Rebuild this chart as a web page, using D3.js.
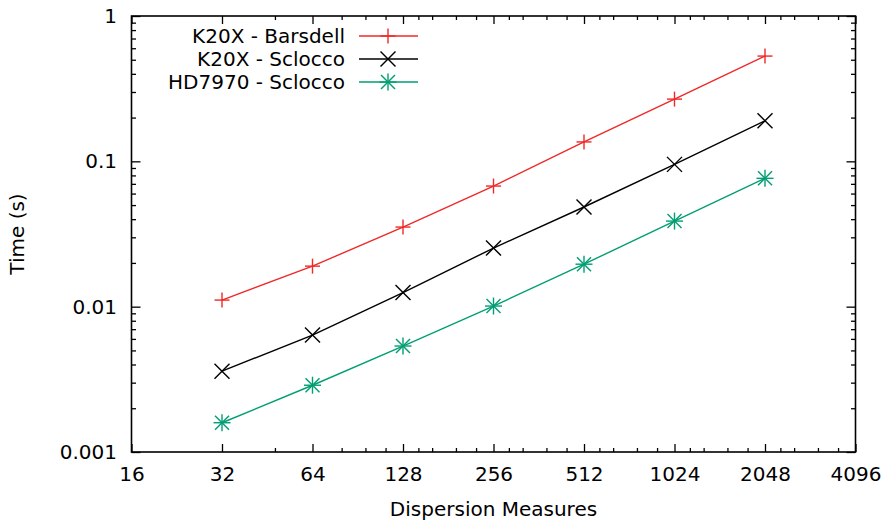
<!DOCTYPE html>
<html>
<head>
<meta charset="utf-8">
<script src="https://cdn.jsdelivr.net/npm/d3@7/dist/d3.min.js"></script>
<style>
  html, body { margin: 0; padding: 0; background: #fff; }
  svg { display: block; font-family: "DejaVu Sans", sans-serif; }
</style>
</head>
<body>
<svg id="chart" width="888" height="521"></svg>
<script>
// Dispersion measure counts (x) and run times in seconds (y)
const dms = [32, 64, 128, 256, 512, 1024, 2048];
const k20xBarsdell = [0.0111, 0.0190, 0.0353, 0.0676, 0.136, 0.268, 0.530];
const k20xSclocco  = [0.0036, 0.00638, 0.0125, 0.0253, 0.0485, 0.0953, 0.190];
const hd7970Sclocco = [0.00159, 0.00288, 0.00536, 0.0101, 0.0196, 0.0388, 0.0764];

const seriesNames = ["K20X - Barsdell", "K20X - Sclocco", "HD7970 - Sclocco"];
const xTicks = [16, 32, 64, 128, 256, 512, 1024, 2048, 4096];
const xMinorTicks = [48, 80, 96, 112,
  144, 160, 192, 224, 288, 320, 384, 448,
  576, 640, 768, 896, 1152, 1280, 1536, 1792,
  2304, 2560, 3072, 3584];
const yTicks = [0.001, 0.01, 0.1, 1];
const yTickLabels = ["0.001", "0.01", "0.1", "1"];

const series = [
  { name: seriesNames[0], values: k20xBarsdell, color: "#f02828", marker: "plus" },
  { name: seriesNames[1], values: k20xSclocco, color: "#000000", marker: "cross" },
  { name: seriesNames[2], values: hd7970Sclocco, color: "#009e73", marker: "star" }
];

const svg = d3.select("#chart");
const L = 131.5, R = 855.5, T = 16, B = 452;

const x = d3.scaleLog().base(2).domain([16, 4096]).range([L, R]);
const y = d3.scaleLog().base(10).domain([0.001, 1]).range([B, T]);

// y minor ticks: 2..9 within each decade
const yMinorTicks = [];
for (let e = -3; e < 0; e++) {
  for (let m = 2; m <= 9; m++) yMinorTicks.push(m * Math.pow(10, e));
}

const g = svg.append("g");
const fontSize = 20;

function styleAxis(sel) {
  sel.select(".domain").remove();
  sel.selectAll(".tick line").attr("stroke", "#000").attr("stroke-width", 1.3);
  sel.selectAll("text").attr("font-size", fontSize).attr("fill", "#000")
     .attr("font-family", "DejaVu Sans, sans-serif");
}

// bottom axis with labels, major ticks pointing inward
g.append("g").attr("transform", `translate(0,${B})`)
  .call(d3.axisBottom(x).tickValues(xTicks).tickFormat(d3.format("d"))
        .tickSizeInner(-8).tickSizeOuter(0).tickPadding(15))
  .call(styleAxis);
g.append("g").attr("transform", `translate(0,${B})`)
  .call(d3.axisBottom(x).tickValues(xMinorTicks).tickFormat("")
        .tickSizeInner(-4).tickSizeOuter(0))
  .call(styleAxis);
// top mirror ticks
g.append("g").attr("transform", `translate(0,${T})`)
  .call(d3.axisTop(x).tickValues(xTicks).tickFormat("")
        .tickSizeInner(-8).tickSizeOuter(0))
  .call(styleAxis);
g.append("g").attr("transform", `translate(0,${T})`)
  .call(d3.axisTop(x).tickValues(xMinorTicks).tickFormat("")
        .tickSizeInner(-4).tickSizeOuter(0))
  .call(styleAxis);

// left axis with labels
g.append("g").attr("transform", `translate(${L},0)`)
  .call(d3.axisLeft(y).tickValues(yTicks).tickFormat((d, i) => yTickLabels[i])
        .tickSizeInner(-9).tickSizeOuter(0).tickPadding(14.5))
  .call(styleAxis);
g.append("g").attr("transform", `translate(${L},0)`)
  .call(d3.axisLeft(y).tickValues(yMinorTicks).tickFormat("")
        .tickSizeInner(-4.5).tickSizeOuter(0))
  .call(styleAxis);
// right mirror ticks
g.append("g").attr("transform", `translate(${R},0)`)
  .call(d3.axisRight(y).tickValues(yTicks).tickFormat("")
        .tickSizeInner(-9).tickSizeOuter(0))
  .call(styleAxis);
g.append("g").attr("transform", `translate(${R},0)`)
  .call(d3.axisRight(y).tickValues(yMinorTicks).tickFormat("")
        .tickSizeInner(-4.5).tickSizeOuter(0))
  .call(styleAxis);

// plot border
svg.append("rect")
  .attr("x", L).attr("y", T).attr("width", R - L).attr("height", B - T)
  .attr("fill", "none").attr("stroke", "#000").attr("stroke-width", 1.6);

// axis titles
svg.append("text")
  .attr("x", (L + R) / 2).attr("y", 516)
  .attr("text-anchor", "middle").attr("font-size", fontSize)
  .text("Dispersion Measures");
svg.append("text")
  .attr("transform", `translate(24,${(T + B) / 2}) rotate(-90)`)
  .attr("text-anchor", "middle").attr("font-size", fontSize)
  .text("Time (s)");

// point markers
function drawMarker(sel, type, cx, cy, color) {
  const add = (x1, y1, x2, y2) => sel.append("line")
    .attr("x1", cx + x1).attr("y1", cy + y1).attr("x2", cx + x2).attr("y2", cy + y2)
    .attr("stroke", color).attr("stroke-width", 1.4);
  if (type === "plus" || type === "star") {
    const s = type === "star" ? 8.5 : 7.5;
    add(-s, 0, s, 0);
    add(0, -s, 0, s);
  }
  if (type === "cross" || type === "star") {
    const c = type === "star" ? 7 : 7.5;
    add(-c, -c, c, c);
    add(-c, c, c, -c);
  }
}

const line = d3.line().x(d => x(d[0])).y(d => y(d[1]));

series.forEach(s => {
  const pts = dms.map((d, i) => [d, s.values[i]]);
  const sg = svg.append("g");
  sg.append("path")
    .datum(pts)
    .attr("d", line)
    .attr("fill", "none")
    .attr("stroke", s.color)
    .attr("stroke-width", 1.4);
  pts.forEach(p => drawMarker(sg, s.marker, x(p[0]), y(p[1]), s.color));
});

// legend
const legend = svg.append("g");
series.forEach((s, i) => {
  const ly = 36 + i * 23;
  legend.append("text")
    .attr("x", 345).attr("y", ly).attr("dy", "0.35em")
    .attr("text-anchor", "end").attr("font-size", fontSize)
    .text(s.name);
  legend.append("line")
    .attr("x1", 359).attr("x2", 418).attr("y1", ly).attr("y2", ly)
    .attr("stroke", s.color).attr("stroke-width", 1.4);
  drawMarker(legend, s.marker, 388, ly, s.color);
});
</script>
</body>
</html>
